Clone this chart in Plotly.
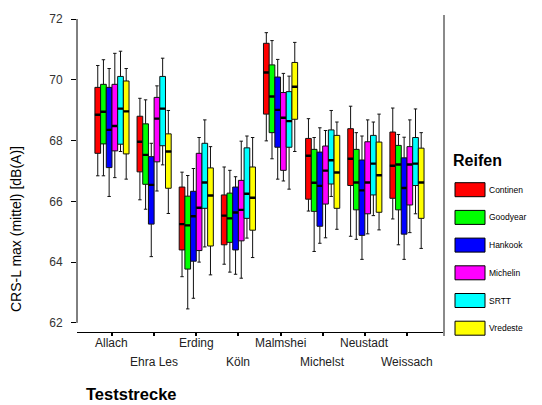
import plotly.graph_objects as go

# Test tracks (x categories) and tyres (grouped series)
strecken = ["Allach", "Ehra Les", "Erding", "Köln", "Malmshei", "Michelst", "Neustadt", "Weissach"]
reifen = ["Continen", "Goodyear", "Hankook", "Michelin", "SRTT", "Vredeste"]
farben = ["#FF0000", "#00FF00", "#0000FF", "#FF00FF", "#00FFFF", "#FFFF00"]

# Box statistics, one row per tyre, one column per track  [dB(A)]
whisker_hi = [
    [70.47, 69.39, 66.96, 67.13, 71.55, 68.72, 69.13, 69.07],
    [70.66, 69.34, 66.85, 67.02, 71.29, 68.10, 68.26, 68.20],
    [70.37, 67.91, 67.08, 66.81, 70.67, 68.42, 68.15, 68.11],
    [70.87, 69.80, 68.10, 67.98, 70.21, 68.33, 68.68, 68.68],
    [70.94, 70.71, 68.68, 68.15, 70.12, 68.99, 68.61, 69.04],
    [70.37, 68.99, 67.80, 68.10, 71.23, 68.61, 68.87, 68.26],
]
q3 = [
    [69.75, 68.80, 66.47, 66.21, 71.20, 68.07, 68.39, 68.28],
    [69.85, 68.55, 66.17, 66.27, 70.49, 67.71, 67.71, 67.84],
    [69.75, 67.47, 66.33, 66.47, 70.09, 67.62, 67.36, 67.43],
    [69.85, 69.42, 67.58, 66.69, 69.58, 67.82, 67.96, 67.80],
    [70.11, 70.11, 67.91, 67.76, 69.61, 68.35, 68.17, 68.10],
    [69.96, 68.22, 67.10, 67.13, 70.57, 68.17, 67.95, 67.75],
]
median = [
    [68.85, 67.96, 65.25, 65.53, 70.24, 67.50, 67.40, 67.17],
    [68.95, 67.53, 65.21, 65.44, 69.45, 66.61, 66.62, 67.21],
    [68.35, 66.54, 65.51, 65.63, 69.01, 66.51, 66.36, 66.44],
    [68.48, 68.72, 65.79, 65.72, 68.75, 67.01, 66.62, 67.21],
    [69.05, 69.05, 66.62, 66.25, 68.64, 67.35, 67.24, 67.24],
    [68.96, 67.64, 66.19, 66.12, 69.77, 66.95, 66.86, 66.62],
]
q1 = [
    [67.58, 66.97, 64.40, 64.57, 68.87, 66.07, 66.52, 66.10],
    [67.89, 66.56, 63.77, 64.65, 68.26, 65.67, 65.72, 65.72],
    [67.11, 65.25, 64.03, 64.40, 67.78, 65.18, 64.88, 64.92],
    [67.66, 67.30, 64.38, 64.70, 67.02, 65.91, 65.59, 65.88],
    [67.88, 67.83, 65.77, 65.44, 67.78, 66.57, 66.21, 66.52],
    [67.56, 66.43, 64.53, 65.05, 68.70, 65.77, 65.64, 65.44],
]
whisker_lo = [
    [66.84, 66.05, 63.52, 63.93, 67.99, 65.68, 64.85, 65.42],
    [66.84, 65.74, 62.46, 63.67, 67.40, 64.35, 64.75, 64.57],
    [66.16, 64.18, 62.81, 63.60, 66.73, 64.62, 64.09, 64.09],
    [66.78, 66.34, 64.00, 63.47, 66.67, 64.80, 64.93, 64.97],
    [67.64, 67.20, 64.50, 64.79, 66.40, 66.16, 65.53, 65.59],
    [66.73, 65.60, 63.58, 64.15, 67.64, 65.08, 65.06, 64.45],
]

y_ticks = [62, 64, 66, 68, 70, 72]

W, H = 542, 405
L, R, T, B = 77, 99, 19, 73
PW, PH = W - L - R, H - T - B


def px_x(px):
    return (px - L) / PW


def px_y(py):
    return (H - B - py) / PH


FONT = "Liberation Sans, Arial, sans-serif"

fig = go.Figure()

for i, name in enumerate(reifen):
    fig.add_trace(go.Box(
        name=name, x=strecken,
        q1=q1[i], median=median[i], q3=q3[i],
        lowerfence=whisker_lo[i], upperfence=whisker_hi[i],
        fillcolor=farben[i], line=dict(color="#111111", width=1),
        whiskerwidth=0.6, offsetgroup=name, alignmentgroup="a",
        boxpoints=False, showlegend=False, hoverinfo="skip",
    ))
    # heavier median bar drawn on top of each box
    fig.add_trace(go.Box(
        name=name, x=strecken,
        q1=median[i], median=median[i], q3=median[i],
        lowerfence=median[i], upperfence=median[i],
        fillcolor="rgba(0,0,0,0)", line=dict(color="#000000", width=2.4),
        whiskerwidth=0, offsetgroup=name, alignmentgroup="a",
        boxpoints=False, showlegend=False, hoverinfo="skip",
    ))

shapes = [
    # y axis line spanning the tick range
    dict(type="line", xref="paper", yref="y", x0=0, x1=0, y0=y_ticks[0], y1=y_ticks[-1],
         line=dict(color="#000000", width=1)),
    # legend frame edge
    dict(type="line", xref="paper", yref="paper", x0=px_x(444), x1=px_x(444),
         y0=px_y(15), y1=px_y(336), line=dict(color="#8a8a8a", width=2)),
]

annotations = []
# two staggered rows of track names
for j, s in enumerate(strecken):
    annotations.append(dict(
        x=s, xref="x", y=0, yref="paper", yanchor="top", xanchor="center",
        yshift=-2 if j % 2 == 0 else -21, text=s, showarrow=False,
        font=dict(family=FONT, size=12, color="#222222"),
    ))

# legend: title, swatches and names
annotations.append(dict(
    x=px_x(451), y=px_y(160), xref="paper", yref="paper", xanchor="left", yanchor="middle",
    text="<b>Reifen</b>", showarrow=False, font=dict(family=FONT, size=16, color="#000000"),
))
leg_y0, leg_dy = 189.7, 27.7
for i, name in enumerate(reifen):
    cy = leg_y0 + i * leg_dy
    shapes.append(dict(
        type="rect", xref="paper", yref="paper",
        x0=px_x(455), x1=px_x(485), y0=px_y(cy + 7), y1=px_y(cy - 7),
        fillcolor=farben[i], line=dict(color="#000000", width=1),
    ))
    annotations.append(dict(
        x=px_x(487), y=px_y(cy), xref="paper", yref="paper", xanchor="left", yanchor="middle",
        text=name, showarrow=False, font=dict(family=FONT, size=8.5, color="#000000"),
    ))

# axis titles
annotations.append(dict(
    x=px_x(16), y=px_y(229), xref="paper", yref="paper", xanchor="center", yanchor="middle",
    text="CRS-L max (mittel) [dB(A)]", textangle=-90, showarrow=False,
    font=dict(family=FONT, size=14, color="#000000"),
))
annotations.append(dict(
    x=px_x(84), y=px_y(383), xref="paper", yref="paper", xanchor="left", yanchor="top",
    text="<b>Teststrecke</b>", showarrow=False,
    font=dict(family=FONT, size=16.5, color="#000000"),
))

fig.update_layout(
    width=W, height=H,
    margin=dict(l=L, r=R, t=T, b=B, pad=0),
    paper_bgcolor="white", plot_bgcolor="white",
    boxmode="group", boxgap=0.19, boxgroupgap=0,
    showlegend=False,
    shapes=shapes, annotations=annotations,
    xaxis=dict(
        type="category", categoryorder="array", categoryarray=strecken,
        range=[-0.83, 7.855], showticklabels=False,
        ticks="outside", ticklen=3, tickwidth=2, tickcolor="#000000",
        showline=True, linecolor="#000000", linewidth=1,
        showgrid=False, zeroline=False, fixedrange=True,
    ),
    yaxis=dict(
        range=[61.7, 72], tickvals=y_ticks, ticktext=[str(v) for v in y_ticks],
        ticks="outside", ticklen=5, tickcolor="#000000",
        tickfont=dict(family=FONT, size=12, color="#333333"),
        ticklabelstandoff=6,
        showline=False, showgrid=False, zeroline=False, fixedrange=True,
    ),
)

fig.write_html("out.html")
